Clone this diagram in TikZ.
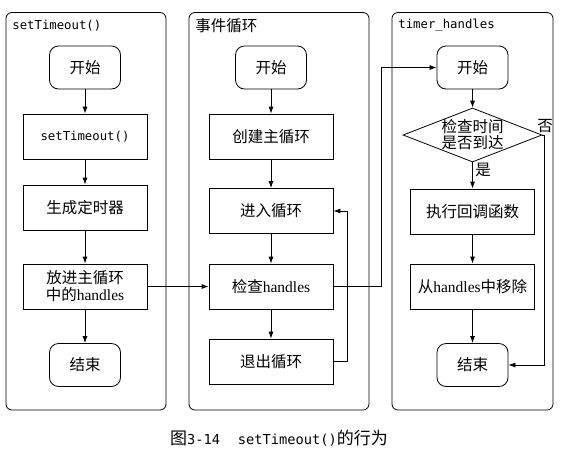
\documentclass[tikz,border=0pt]{standalone}
\usepackage{fontspec}
\setmainfont{Liberation Serif}
\setmonofont{DejaVu Sans Mono}
\newfontfamily\cjk{Noto Sans CJK SC}
\newcommand{\zh}[1]{{\cjk #1}}
\usetikzlibrary{shapes.geometric,arrows.meta}

\begin{document}
\begin{tikzpicture}[x=1pt,y=1pt,yscale=-1,xscale=1,
		line width=0.8pt,
		panel/.style={draw, rounded corners=6pt},
		procbox/.style={draw, rectangle, minimum width=124pt, minimum height=45pt, inner sep=0pt, align=center, font=\fontsize{15.5}{17}\selectfont},
		termbox/.style={draw, rounded corners=9pt, minimum width=71pt, minimum height=43pt, inner sep=0pt, font=\fontsize{15.5}{17}\selectfont},
		decbox/.style={draw, diamond, minimum width=139pt, minimum height=54pt, inner sep=0pt},
		flow/.style={-{Latex[length=7pt,width=5pt]}},
		title/.style={anchor=west, inner sep=0pt, font=\fontsize{12.3}{14}\selectfont\ttfamily},
		lbl/.style={inner sep=0pt, align=center, font=\fontsize{15.5}{16}\selectfont}]
		\useasboundingbox (0,0) rectangle (567,448);

		% The three swimlanes
		\draw[panel] (6,12.5) rectangle (166,410);
		\draw[panel] (189,12.5) rectangle (369,410);
		\draw[panel] (392,12.5) rectangle (553,410);

		% Swimlane titles
		\node[title] (stitle) at (12,26) {setTimeout()};
		\node[title, font=\fontsize{15.5}{17}\selectfont\cjk] (ltitle) at (195,26) {事件循环};
		\node[title] (ttitle) at (398,25.5) {timer\_handles};

		% Left lane: setTimeout()
		\node[termbox] (sstart) at (85,67.5) {\zh{开始}};
		\node[procbox, font=\fontsize{12.3}{14}\selectfont\ttfamily] (scall) at (85,136.5) {setTimeout()};
		\node[procbox] (stimer) at (85,207.5) {\zh{生成定时器}};
		\node[procbox] (sput) at (85,286.5) {\zh{放进主循环}\\\zh{中的}handles};
		\node[termbox] (send) at (85,365) {\zh{结束}};

		% Middle lane: event loop
		\node[termbox] (lstart) at (271,67.5) {\zh{开始}};
		\node[procbox] (lcreate) at (271,136.5) {\zh{创建主循环}};
		\node[procbox] (lenter) at (271,211) {\zh{进入循环}};
		\node[procbox] (lcheck) at (271,286.5) {\zh{检查}handles};
		\node[procbox] (lexit) at (271,361.5) {\zh{退出循环}};

		% Right lane: timer_handles
		\node[termbox] (tstart) at (472.5,67.5) {\zh{开始}};
		\node[decbox] (tdue) at (472.5,135) {};
		\node[lbl] (tduetxt) at (tdue.center) {\zh{检查时间}\\\zh{是否到达}};
		\node[procbox] (trun) at (472.5,211.5) {\zh{执行回调函数}};
		\node[procbox] (tdrop) at (472.5,286.5) {\zh{从}handles\zh{中移除}};
		\node[termbox] (tend) at (472.5,365) {\zh{结束}};

		% Branch labels
		\node[lbl] (tno) at (545,126) {\zh{否}};
		\node[lbl] (tyes) at (483,169.5) {\zh{是}};

		% Arrows inside the lanes
		\draw[flow] (sstart) -- (scall);
		\draw[flow] (scall) -- (stimer);
		\draw[flow] (stimer) -- (sput);
		\draw[flow] (sput) -- (send);

		\draw[flow] (lstart) -- (lcreate);
		\draw[flow] (lcreate) -- (lenter);
		\draw[flow] (lenter) -- (lcheck);
		\draw[flow] (lcheck) -- (lexit);
		\draw[flow] (lexit.east) -- ++(14,0) |- (lenter.east);

		\draw[flow] (tstart) -- (tdue);
		\draw[flow] (tdue) -- (trun);
		\draw[flow] (trun) -- (tdrop);
		\draw[flow] (tdrop) -- (tend);
		\draw[flow] (tdue.east) -- ++(1.5,0) |- (tend.east);

		% Arrows between the lanes
		\draw[flow] (sput) -- (lcheck);
		\draw[flow] (lcheck.east) -- ++(48,0) |- (tstart.west);

		% Caption
		\node[lbl, font=\fontsize{17}{20}\selectfont] (caption) at (279,438) {\zh{图}\texttt{\fontsize{13.7}{16}\selectfont 3-14\hspace{18pt}setTimeout()}\zh{的行为}};
	\end{tikzpicture}
\end{document}
